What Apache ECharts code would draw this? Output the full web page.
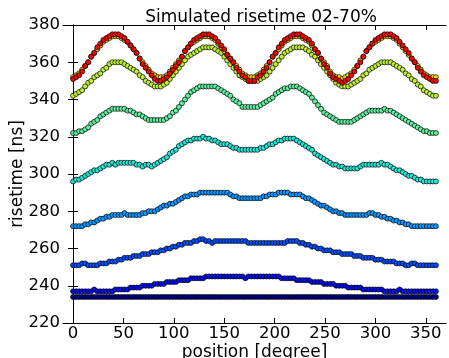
<!DOCTYPE html>
<html><head><meta charset="utf-8">
<script src="https://cdn.jsdelivr.net/npm/echarts@6/dist/echarts.min.js"></script>
<style>html,body{margin:0;padding:0;background:#fff}#c{width:449px;height:358px}</style>
</head><body><div id="c"></div>
<script>
var titleText = "Simulated risetime 02-70%";
var xName = "position [degree]";
var yName = "risetime [ns]";
var xTicks = [0,50,100,150,200,250,300,350];
var yTicks = [220,240,260,280,300,320,340,360,380];

var positions = [
0,3,6,9,12,15,18,21,24,27,
30,33,36,39,42,45,48,51,54,57,
60,63,66,69,72,75,78,81,84,87,
90,93,96,99,102,105,108,111,114,117,
120,123,126,129,132,135,138,141,144,147,
150,153,156,159,162,165,168,171,174,177,
180,183,186,189,192,195,198,201,204,207,
210,213,216,219,222,225,228,231,234,237,
240,243,246,249,252,255,258,261,264,267,
270,273,276,279,282,285,288,291,294,297,
300,303,306,309,312,315,318,321,324,327,
330,333,336,339,342,345,348,351,354,357,
360];

var sF = [
234,234,234,234,234,234,234,234,234,234,
234,234,234,234,234,234,234,234,234,234,
234,234,234,234,234,234,234,234,234,234,
234,234,234,234,234,234,234,234,234,234,
234,234,234,234,234,234,234,234,234,234,
234,234,234,234,234,234,234,234,234,234,
234,234,234,234,234,234,234,234,234,234,
234,234,234,234,234,234,234,234,234,234,
234,234,234,234,234,234,234,234,234,234,
234,234,234,234,234,234,234,234,234,234,
234,234,234,234,234,234,234,234,234,234,
234,234,234,234,234,234,234,234,234,234,
234];

var sE = [
237,237,237,237,237,237,237,238,237,237,
237,237,237,237,238,238,238,238,238,239,
239,239,239,240,240,240,240,241,241,241,
241,242,242,242,242,243,243,243,243,244,
244,244,244,244,245,245,245,245,245,245,
245,245,245,245,245,245,245,244,245,245,
245,245,245,245,245,245,245,245,245,244,
244,244,244,244,243,243,243,243,243,242,
242,242,242,241,241,241,241,240,240,240,
240,239,239,239,239,239,238,238,238,238,
238,238,238,237,237,237,237,237,238,237,
237,237,237,237,237,237,237,237,237,237,
237];

var sD = [
251,251,251,252,252,251,251,251,251,252,
252,252,253,253,253,254,254,255,255,255,
256,256,256,257,257,257,258,258,258,259,
259,260,260,261,261,262,262,263,263,263,
264,264,265,265,264,264,263,264,264,264,
264,264,264,264,264,264,264,264,263,263,
263,263,263,263,263,263,263,263,263,263,
263,264,264,264,264,263,263,262,262,261,
261,260,260,259,259,259,258,258,258,257,
257,257,257,256,256,256,255,255,255,255,
254,254,254,253,253,253,253,252,252,252,
251,251,252,252,251,251,251,251,251,251,
251];

var sB = [
272,272,272,272,273,273,274,274,275,276,
276,277,277,278,278,278,278,279,278,278,
278,278,278,279,279,280,280,280,281,282,
283,283,284,284,285,286,287,288,288,289,
289,289,290,290,290,290,290,290,290,290,
290,290,289,288,288,287,287,287,287,287,
287,287,287,288,288,289,289,289,290,290,
290,290,289,289,289,289,288,287,287,286,
285,284,283,283,282,281,280,280,279,279,
278,278,278,278,278,278,278,278,279,279,
278,278,277,277,276,276,275,275,274,274,
273,273,272,272,272,272,272,272,272,272,
272];

var sC = [
296,297,297,298,299,300,301,302,302,303,
304,305,305,306,305,306,306,306,306,306,
306,305,305,304,305,305,304,305,306,307,
308,309,311,312,313,315,316,317,318,318,
319,319,319,320,319,319,318,318,317,316,
316,316,315,314,314,313,313,313,313,313,
313,313,314,314,315,316,316,317,318,318,
319,319,319,319,318,317,316,315,314,313,
311,310,309,308,307,306,305,305,304,304,
303,303,303,303,303,304,305,305,305,305,
305,305,306,305,305,304,303,302,302,301,
300,299,299,298,297,297,296,296,296,296,
296];

var sT = [
322,322,323,323,324,325,327,328,329,331,
332,333,334,335,335,335,335,335,334,334,
333,332,332,331,330,329,329,329,329,329,
329,330,331,333,334,336,338,340,342,344,
345,346,347,347,347,347,347,347,346,345,
344,343,342,340,339,338,336,336,336,336,
336,336,337,338,339,340,341,343,344,345,
346,346,347,347,347,346,345,344,343,341,
339,337,335,333,332,331,330,329,328,328,
328,328,328,329,330,331,332,333,334,334,
334,334,334,335,334,334,333,332,331,330,
329,328,327,326,325,324,323,323,322,322,
322];

var sG = [
342,343,344,345,347,349,350,352,353,354,
356,357,359,360,360,360,360,359,358,357,
356,355,353,352,350,349,348,347,347,347,
348,349,351,353,355,357,359,361,363,364,
365,366,367,368,368,368,368,367,366,365,
363,361,359,357,355,353,352,351,350,350,
350,350,351,352,353,355,357,359,361,363,
365,366,367,368,368,368,368,367,366,364,
363,361,359,357,355,353,351,349,348,347,
347,347,348,349,350,351,353,354,356,357,
358,359,360,360,360,360,359,358,357,356,
354,353,351,350,348,347,345,344,343,342,
342];

var sY = [
352,353,354,356,358,360,363,365,367,369,
371,372,373,374,374,374,373,372,371,369,
367,365,362,360,358,356,354,353,352,352,
352,353,355,357,359,361,363,366,368,370,
371,372,373,374,374,374,373,372,370,368,
366,364,362,360,358,356,354,353,352,352,
352,353,354,356,358,360,363,365,367,369,
371,372,373,374,374,374,373,372,371,369,
367,365,362,360,358,355,353,352,352,351,
352,353,354,356,358,361,363,366,368,370,
371,372,373,374,374,374,373,372,370,368,
366,364,362,360,358,356,354,353,352,352,
352];

var sR = [
351,352,353,355,358,360,363,365,368,370,
372,373,374,375,375,375,374,373,371,369,
367,365,362,359,357,355,353,351,350,350,
351,352,354,356,358,360,363,366,368,370,
372,373,374,375,375,375,374,373,371,369,
367,364,362,360,357,355,353,352,350,350,
350,352,353,355,357,360,363,365,368,370,
372,373,374,375,375,375,374,373,372,370,
367,365,362,359,357,354,352,351,350,349,
350,351,353,355,358,360,363,366,368,370,
372,373,374,375,375,375,374,373,371,369,
367,365,362,360,357,355,353,352,351,350,
350];

var seriesList = [
  {name:'F', values:sF, color:'#00008a'},
  {name:'E', values:sE, color:'#0010f0'},
  {name:'D', values:sD, color:'#0050ff'},
  {name:'B', values:sB, color:'#0898ff'},
  {name:'C', values:sC, color:'#20e8d8'},
  {name:'T', values:sT, color:'#60f0a0'},
  {name:'G', values:sG, color:'#c0f030'},
  {name:'Y', values:sY, color:'#ffd800'},
  {name:'R', values:sR, color:'#f00800'}
];

var chart = echarts.init(document.getElementById('c'), null, {renderer:'canvas'});
var font = 'DejaVu Sans';
var series = seriesList.map(function(s){
  return {
    type:'scatter', name:s.name, xAxisIndex:0, yAxisIndex:0,
    symbol:'circle', symbolSize:5,
    itemStyle:{color:s.color, borderColor:'#000', borderWidth:0.7, opacity:1},
    data: positions.map(function(p,i){return [p, s.values[i]];}),
    silent:true
  };
});
var axisLineStyle = {show:true, lineStyle:{color:'#000', width:1}};
chart.setOption({
  animation:false,
  title:{text:titleText, left:256, textAlign:'center', top:4, textStyle:{fontFamily:font, fontSize:17, fontWeight:'normal', color:'#000'}},
  grid:{left:63, right:3, top:25, bottom:35, containLabel:false, outerBoundsMode:'none'},
  xAxis:[
    {type:'value', position:'bottom', min:-10, max:370,
     name:xName, nameLocation:'middle', nameGap:21, nameMoveOverlap:false,
     nameTextStyle:{fontFamily:font, fontSize:17, color:'#000'},
     axisLine:axisLineStyle,
     axisTick:{show:true, inside:true, length:5, customValues:xTicks, lineStyle:{color:'#000'}},
     axisLabel:{show:true, customValues:xTicks, fontFamily:font, fontSize:16.5, color:'#000', margin:2},
     splitLine:{show:false}},
    {type:'value', position:'top', min:-10, max:370,
     axisLine:axisLineStyle,
     axisTick:{show:true, inside:true, length:5, customValues:xTicks, lineStyle:{color:'#000'}},
     axisLabel:{show:false}, splitLine:{show:false}}
  ],
  yAxis:[
    {type:'value', position:'left', min:220, max:380, interval:20,
     name:yName, nameLocation:'middle', nameGap:37, nameRotate:90, nameMoveOverlap:false,
     nameTextStyle:{fontFamily:font, fontSize:17, color:'#000'},
     axisLine:axisLineStyle,
     axisTick:{show:true, inside:true, length:5, lineStyle:{color:'#000'}},
     axisLabel:{show:true, fontFamily:font, fontSize:16.5, color:'#000', margin:3},
     splitLine:{show:false}},
    {type:'value', position:'right', min:220, max:380, interval:20,
     axisLine:axisLineStyle,
     axisTick:{show:true, inside:true, length:5, lineStyle:{color:'#000'}},
     axisLabel:{show:false}, splitLine:{show:false}}
  ],
  series:series
});
</script>
</body></html>
